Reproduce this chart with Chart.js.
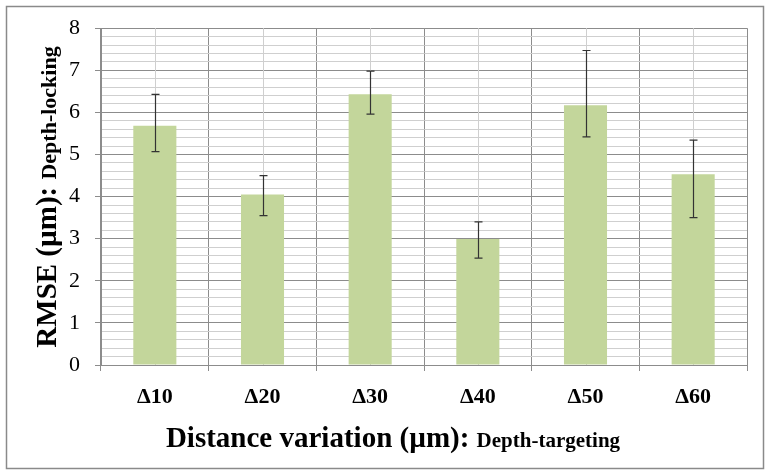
<!DOCTYPE html>
<html>
<head>
<meta charset="utf-8">
<script src="https://cdn.jsdelivr.net/npm/chart.js@4"></script>
<style>
  html, body { margin: 0; padding: 0; background: #fff; }
  #wrap { width: 771px; height: 476px; position: relative; }
</style>
</head>
<body>
<div id="wrap"><canvas id="rmseChart"></canvas></div>
<script>
const categories = ["Δ10", "Δ20", "Δ30", "Δ40", "Δ50", "Δ60"];
const rmse = [5.68, 4.05, 6.43, 2.99, 6.17, 4.53];
const errPlus = [0.75, 0.45, 0.55, 0.41, 1.30, 0.81];
const errMinus = [0.61, 0.50, 0.47, 0.45, 0.75, 1.03];
const yMin = 0;
const yMax = 8;
const yStep = 0.2;

const serif = "'Liberation Serif', 'Times New Roman', serif";
const majorGrid = "#8c8c8c";
const minorGrid = "#cfcfcf";

function isMajor(v) {
  return Math.abs(v - Math.round(v)) < 1e-6;
}

// frame, centre lines, error bars and the two mixed-size axis titles
const extras = {
  id: "extras",
  beforeDraw(chart) {
    const c = chart.ctx;
    c.save();
    c.fillStyle = "#fff";
    c.fillRect(0, 0, chart.width, chart.height);
    c.strokeStyle = "#8a8a8a";
    c.lineWidth = 1.5;
    c.strokeRect(6.5, 6.5, 757, 462);
    c.restore();
  },
  beforeDatasetsDraw(chart) {
    const c = chart.ctx;
    const x = chart.scales.x;
    const area = chart.chartArea;
    c.save();
    c.strokeStyle = minorGrid;
    c.lineWidth = 1;
    categories.forEach((_, i) => {
      const px = Math.round(x.getPixelForValue(i)) + 0.5;
      c.beginPath();
      c.moveTo(px, area.top);
      c.lineTo(px, area.bottom);
      c.stroke();
    });
    c.restore();
  },
  afterDatasetsDraw(chart) {
    const c = chart.ctx;
    const y = chart.scales.y;
    const meta = chart.getDatasetMeta(0);
    c.save();
    c.strokeStyle = "#333";
    c.lineWidth = 1.2;
    meta.data.forEach((bar, i) => {
      const px = Math.round(bar.x) + 0.5;
      const top = y.getPixelForValue(rmse[i] + errPlus[i]);
      const bot = y.getPixelForValue(rmse[i] - errMinus[i]);
      c.beginPath();
      c.moveTo(px, top);
      c.lineTo(px, bot);
      c.moveTo(px - 4, top);
      c.lineTo(px + 4, top);
      c.moveTo(px - 4, bot);
      c.lineTo(px + 4, bot);
      c.stroke();
    });
    c.restore();
  },
  afterDraw(chart) {
    const c = chart.ctx;
    c.save();
    c.fillStyle = "#000";
    c.textBaseline = "alphabetic";

    // x title
    const bigX = "bold 29px " + serif;
    const smallX = "bold 21px " + serif;
    const partA = "Distance variation (µm): ";
    const partB = "Depth-targeting";
    c.font = bigX;
    const wA = c.measureText(partA).width;
    c.font = smallX;
    const wB = c.measureText(partB).width;
    let sx = 393 - (wA + wB) / 2;
    c.font = bigX;
    c.fillText(partA, sx, 447);
    c.font = smallX;
    c.fillText(partB, sx + wA, 447);

    // y title, rotated
    const bigY = "bold 29px " + serif;
    const smallY = "bold 22px " + serif;
    const yA = "RMSE (µm): ";
    const yB = "Depth-locking";
    c.translate(56, 197);
    c.rotate(-Math.PI / 2);
    c.font = bigY;
    const hA = c.measureText(yA).width;
    c.font = smallY;
    const hB = c.measureText(yB).width;
    sx = -(hA + hB) / 2;
    c.font = bigY;
    c.fillText(yA, sx, 0);
    c.font = smallY;
    c.fillText(yB, sx + hA, 0);
    c.restore();
  }
};

new Chart(document.getElementById("rmseChart"), {
  type: "bar",
  data: {
    labels: categories,
    datasets: [{
      data: rmse,
      backgroundColor: "#c3d69b",
      borderWidth: 0,
      categoryPercentage: 1,
      barPercentage: 0.4
    }]
  },
  plugins: [extras],
  options: {
    responsive: true,
    maintainAspectRatio: false,
    animation: false,
    devicePixelRatio: 1,
    layout: { padding: { top: 27, right: 24, left: 0, bottom: 0 } },
    plugins: {
      legend: { display: false },
      tooltip: { enabled: false }
    },
    scales: {
      x: {
        offset: true,
        afterFit(scale) { scale.height = 111; },
        grid: {
          offset: true,
          color: majorGrid,
          tickColor: majorGrid,
          tickLength: 6
        },
        border: { color: majorGrid },
        ticks: {
          color: "#000",
          padding: 13,
          font: { family: serif, size: 22, weight: "bold" }
        }
      },
      y: {
        min: yMin,
        max: yMax,
        afterFit(scale) { scale.width = 101; },
        grid: {
          color: ctx => (ctx.tick && isMajor(ctx.tick.value)) ? majorGrid : minorGrid,
          tickColor: ctx => (ctx.tick && isMajor(ctx.tick.value)) ? majorGrid : "rgba(0,0,0,0)",
          tickLength: 6
        },
        border: { color: majorGrid },
        ticks: {
          stepSize: yStep,
          autoSkip: false,
          color: "#000",
          padding: 15,
          font: { family: serif, size: 22 },
          callback: v => isMajor(v) ? String(Math.round(v)) : ""
        }
      }
    }
  }
});
</script>
</body>
</html>
